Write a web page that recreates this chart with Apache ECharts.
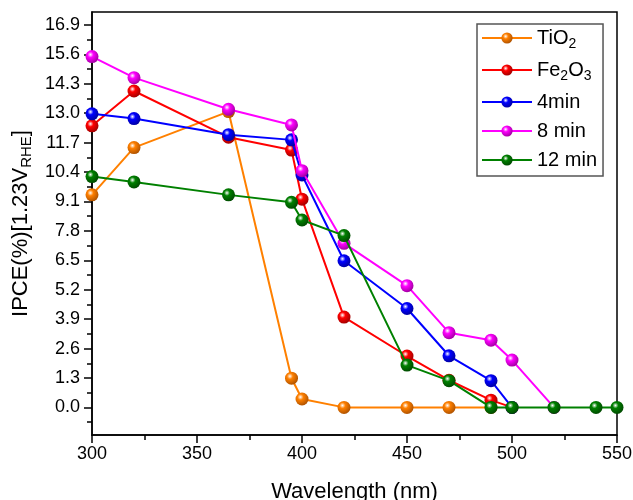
<!DOCTYPE html>
<html><head><meta charset="utf-8">
<script src="https://cdn.jsdelivr.net/npm/echarts@6/dist/echarts.min.js"></script>
<style>html,body{margin:0;padding:0;background:#fff}#c{width:633px;height:500px}</style>
</head><body><div id="c"></div>
<script>
const seriesNames = ['TiO2', 'Fe2O3', '4min', '8 min', '12 min'];
const tio2X = [300,320,365,395,400,420,450,470,490];
const tio2Y = [9.39,11.48,13.07,1.29,0.37,0,0,0,0];
const fe2o3X = [300,320,365,395,400,420,450,470,490,500];
const fe2o3Y = [12.44,13.98,11.94,11.37,9.2,3.99,2.27,1.2,0.32,0];
const min4X = [300,320,365,395,400,420,450,470,490,500];
const min4Y = [12.97,12.76,12.05,11.82,10.27,6.48,4.37,2.28,1.18,0];
const min8X = [300,320,365,395,400,420,450,470,490,500,520];
const min8Y = [15.5,14.57,13.17,12.48,10.46,7.25,5.38,3.3,2.97,2.09,0];
const min12X = [300,320,365,395,400,420,450,470,490,500,520,540,550];
const min12Y = [10.2,9.96,9.39,9.06,8.28,7.59,1.87,1.18,0,0,0,0,0];
const yTickLabels = [0,1.3,2.6,3.9,5.2,6.5,7.8,9.1,10.4,11.7,13.0,14.3,15.6,16.9];
const yMinorTicks = [-0.65,0.65,1.95,3.25,4.55,5.85,7.15,8.45,9.75,11.05,12.35,13.65,14.95,16.25];

const colors = ['#FF8000','#FF0000','#0000FF','#FF00FF','#008000'];
const darks = ['#a04a00','#900000','#000090','#900090','#004000'];
const xs = [tio2X, fe2o3X, min4X, min8X, min12X];
const ys = [tio2Y, fe2o3Y, min4Y, min8Y, min12Y];
const FONT = 'Liberation Sans, Arial, sans-serif';

function ball(i){
  return {type:'radial', x:0.38, y:0.35, r:0.75, colorStops:[
    {offset:0, color:'#ffffff'},{offset:0.3, color:colors[i]},{offset:1, color:darks[i]}]};
}

const series = seriesNames.map((n,i)=>({
  name:n, type:'line', yAxisIndex:0,
  data: xs[i].map((x,k)=>[x, ys[i][k]]),
  symbol:'circle', symbolSize:13,
  lineStyle:{color:colors[i], width:2},
  itemStyle:{color:ball(i)},
  z: 2+i
}));

const ymin = -1.22, ymax = 17.47;
const chart = echarts.init(document.getElementById('c'));
chart.setOption({
  animation:false,
  textStyle:{fontFamily:FONT},
  grid:{left:92, right:16, top:12, bottom:65, show:true, borderColor:'#000', borderWidth:1.5,
    containLabel:false, outerBoundsMode:'none'},
  legend:{
    orient:'vertical', left:477, top:24, itemWidth:50, itemHeight:14, itemGap:9,
    padding:[4,6,6,4], borderColor:'#555', borderWidth:1.5,
    textStyle:{fontSize:20, color:'#000', fontFamily:FONT,
      rich:{a:{fontSize:20, fontFamily:FONT}, s:{fontSize:14, fontFamily:FONT, verticalAlign:'bottom', padding:[12,0,0,0]}}},
    formatter: n => n==='TiO2' ? '{a|TiO}{s|2}' : n==='Fe2O3' ? '{a|Fe}{s|2}{a|O}{s|3}' : '{a|'+n+'}',
    data: seriesNames
  },
  xAxis:{
    type:'value', min:300, max:550, interval:50,
    name:'Wavelength (nm)', nameLocation:'middle', nameGap:46,
    nameTextStyle:{fontSize:22, color:'#000', fontFamily:FONT},
    axisLine:{onZero:false, lineStyle:{color:'#000', width:1.5}},
    axisTick:{show:true, inside:false, length:8, lineStyle:{color:'#000', width:1.5}},
    minorTick:{show:true, splitNumber:2, length:5, lineStyle:{color:'#000', width:1.5}},
    axisLabel:{fontSize:18, color:'#000', margin:10, fontFamily:FONT},
    splitLine:{show:false}, minorSplitLine:{show:false}
  },
  yAxis:[{
    type:'value', min:ymin, max:ymax,
    name:'{a|IPCE(%)[1.23V}{s|RHE}{a|]}', nameLocation:'middle', nameRotate:90, nameGap:55,
    nameTextStyle:{fontSize:22, color:'#000', fontFamily:FONT,
      rich:{a:{fontSize:22, fontFamily:FONT}, s:{fontSize:15, fontFamily:FONT, verticalAlign:'bottom', padding:[12,0,0,0]}}},
    axisLine:{show:true, onZero:false, lineStyle:{color:'#000', width:1.5}},
    axisTick:{show:true, length:8, customValues:yTickLabels, lineStyle:{color:'#000', width:1.5}},
    axisLabel:{fontSize:18, color:'#000', margin:12, customValues:yTickLabels, fontFamily:FONT,
      formatter:v=>v.toFixed(1)},
    splitLine:{show:false}
  },{
    type:'value', min:ymin, max:ymax, position:'left',
    axisLine:{show:false, onZero:false},
    axisTick:{show:true, length:5, customValues:yMinorTicks, lineStyle:{color:'#000', width:1.5}},
    axisLabel:{show:false}, splitLine:{show:false}
  }],
  series: series
});
</script></body></html>
